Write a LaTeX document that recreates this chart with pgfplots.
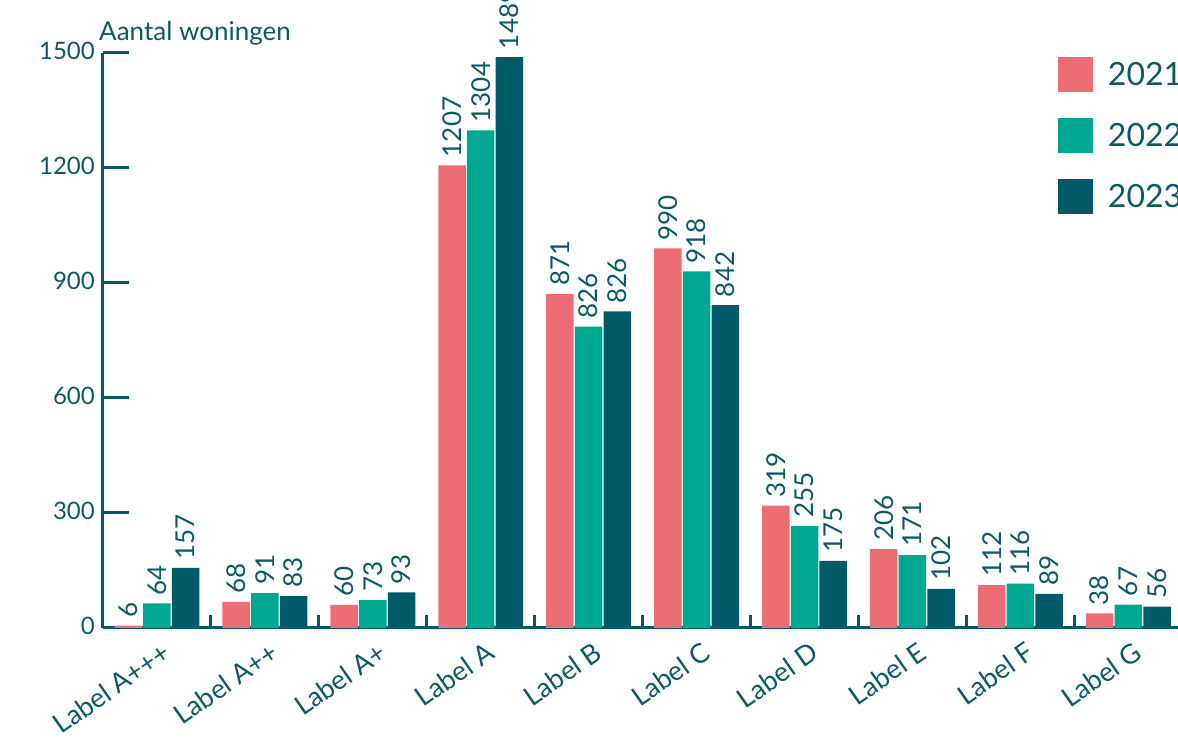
\documentclass[border=0pt]{standalone}
\usepackage{pgfplots}
\pgfplotsset{compat=1.18}
\usepackage{pgfplotstable}
\usepackage{fontspec}
\setmainfont{Lato}
\definecolor{cpink}{HTML}{EC6E74}
\definecolor{cteal}{HTML}{00A891}
\definecolor{cdark}{HTML}{005A67}
\definecolor{ctext}{HTML}{0B5B67}

\pgfplotstableread{
x y lab
0 6 6
1 68 68
2 60 60
3 1207 1207
4 871 871
5 990 990
6 319 319
7 206 206
8 112 112
9 38 38
}\tabA
\pgfplotstableread{
x y lab
0 64 64
1 91 91
2 73 73
3 1298 1304
4 786 826
5 930 918
6 266 255
7 190 171
8 116 116
9 61 67
}\tabB
\pgfplotstableread{
x y lab
0 157 157
1 83 83
2 93 93
3 1489 1489
4 826 826
5 842 842
6 175 175
7 102 102
8 89 89
9 56 56
}\tabC

\begin{document}
\begin{tikzpicture}
\path[use as bounding box] (0,0) rectangle (1178pt,738pt);
\begin{axis}[
  at={(103pt,110pt)}, anchor=south west,
  scale only axis, width=1075pt, height=575pt,
  xmin=-0.5, xmax=9.46, ymin=0, ymax=1500,
  clip=false,
  axis lines=left,
  axis line style={-, line width=3pt, draw=cdark},
  ybar=1.2pt, bar width=27.5pt,
  xtick={0,...,9},
  xticklabels={Label A+++, Label A++, Label A+, Label A, Label B, Label C, Label D, Label E, Label F, Label G},
  xtick style={draw=none},
  extra x ticks={0.5,1.5,...,8.5},
  extra x tick labels={},
  extra x tick style={major tick length=13pt, xtick style={draw=cdark, line width=3pt}},
  ytick={0,300,...,1500},
  major tick length=26pt,
  tick align=inside,
  ytick style={line width=3pt, draw=cdark},
  xticklabel style={font=\fontsize{27}{32}\selectfont, text=ctext, inner sep=0pt, xshift=10pt, yshift=-21pt, anchor=east, rotate=35},
  yticklabel style={font=\fontsize{24}{28}\selectfont, text=ctext, inner sep=0pt, anchor=east, xshift=-8pt, yshift=2pt},
  /pgf/number format/assume math mode=true,
  /pgf/number format/1000 sep={},
  point meta=explicit symbolic,
  nodes near coords,
  every node near coord/.append style={rotate=90, anchor=west, inner xsep=8pt, inner ysep=0pt, font=\fontsize{26}{30}\selectfont, text=ctext},
  legend image code/.code={\fill[#1] (0pt,-17.5pt) rectangle (35pt,17.5pt);},
  legend style={at={(0.8884,0.9934)}, anchor=north west, draw=none, fill=none, inner sep=0pt, outer sep=0pt, row sep=26pt, font=\fontsize{32}{36}\selectfont, text=ctext, nodes={inner sep=0pt}, /tikz/every odd column/.append style={column sep=15pt}},
  legend cell align=left,
]
\addplot[fill=cpink, draw=none] table[x=x, y=y, meta=lab] {\tabA};
\addplot[fill=cteal, draw=none] table[x=x, y=y, meta=lab] {\tabB};
\addplot[fill=cdark, draw=none] table[x=x, y=y, meta=lab] {\tabC};
\legend{2021,2022,2023}
\node[anchor=base west, inner sep=0pt, font=\fontsize{26}{30}\selectfont, text=ctext, xshift=-4pt, yshift=12.3pt] at (rel axis cs:0,1) {Aantal woningen};
\end{axis}
\end{tikzpicture}
\end{document}
